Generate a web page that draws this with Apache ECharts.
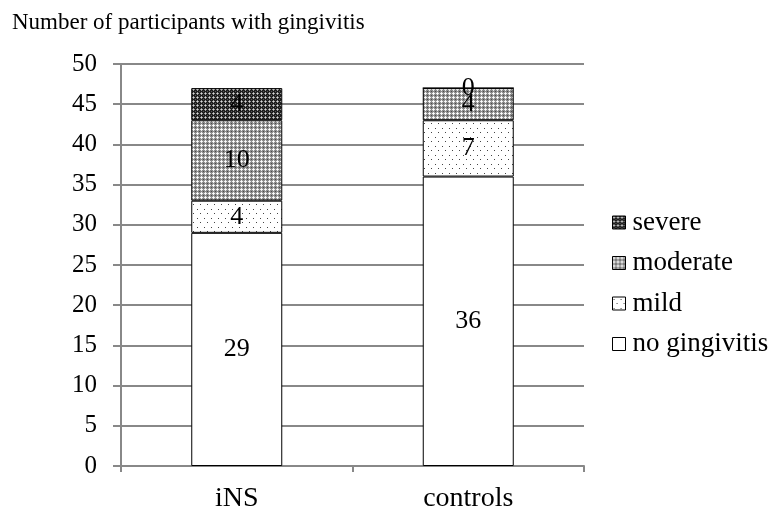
<!DOCTYPE html>
<html>
<head>
<meta charset="utf-8">
<script src="https://cdn.jsdelivr.net/npm/echarts@6/dist/echarts.min.js"></script>
<style>html,body{margin:0;padding:0;background:#fff;}#c{width:769px;height:510px;}</style>
</head>
<body>
<div id="c"></div>
<script>
var categories = ['iNS', 'controls'];
var noGingivitis = [29, 36];
var mild = [4, 7];
var moderate = [10, 4];
var severe = [4, 0];
var yTicks = [0, 5, 10, 15, 20, 25, 30, 35, 40, 45, 50];
var titleText = 'Number of participants with gingivitis';

function makePattern(kind) {
  var c = document.createElement('canvas');
  var ctx = c.getContext('2d');
  function px(x, y, col) { ctx.fillStyle = col; ctx.fillRect(x, y, 1, 1); }
  if (kind === 'severe') {
    c.width = 4; c.height = 4;
    ctx.fillStyle = '#1e1e1e'; ctx.fillRect(0, 0, 4, 4);
    px(1, 0, '#9a9a9a'); px(0, 1, '#9a9a9a'); px(2, 1, '#9a9a9a'); px(1, 2, '#9a9a9a');
    px(1, 1, '#d5d5d5');
    px(3, 3, '#555');
  } else if (kind === 'moderate') {
    c.width = 4; c.height = 4;
    ctx.fillStyle = '#8c8c8c'; ctx.fillRect(0, 0, 4, 4);
    px(1, 0, '#f0f0f0'); px(0, 1, '#f0f0f0'); px(2, 1, '#f0f0f0'); px(1, 2, '#f0f0f0');
    px(1, 1, '#ffffff');
    px(3, 3, '#4a4a4a');
  } else if (kind === 'mild') {
    c.width = 7; c.height = 9;
    ctx.fillStyle = '#ffffff'; ctx.fillRect(0, 0, 7, 9);
    px(1, 2, '#444'); px(4, 6, '#444');
  } else {
    c.width = 2; c.height = 2;
    ctx.fillStyle = '#ffffff'; ctx.fillRect(0, 0, 2, 2);
  }
  return { image: c, repeat: 'repeat' };
}

var font = '"Liberation Serif", "Times New Roman", serif';
var labelStyle = { show: true, position: 'inside', color: '#000', fontFamily: font, fontSize: 26 };

function mk(name, data, kind) {
  return {
    name: name, type: 'bar', stack: 'all', data: data, barWidth: 91,
    itemStyle: { color: makePattern(kind), borderColor: '#000', borderWidth: 1 },
    label: labelStyle,
    emphasis: { disabled: true }
  };
}

var chart = echarts.init(document.getElementById('c'), null, { renderer: 'canvas' });
chart.setOption({
  animation: false,
  backgroundColor: '#fff',
  title: {
    text: titleText, left: 7, top: 6,
    textStyle: { fontFamily: font, fontSize: 23, fontWeight: 'normal', color: '#000' }
  },
  grid: { left: 121, right: 185, top: 64, bottom: 44, containLabel: false, outerBoundsMode: 'none' },
  legend: {
    orient: 'vertical', left: 612, top: 209, padding: 0,
    data: ['severe', 'moderate', 'mild', 'no gingivitis'],
    icon: 'rect', itemWidth: 13, itemHeight: 13, itemGap: 13.5,
    itemStyle: { borderColor: '#000', borderWidth: 1 },
    textStyle: { fontFamily: font, fontSize: 27, color: '#000', lineHeight: 22, padding: [0, 0, 0, 2] },
    selectedMode: false
  },
  xAxis: {
    type: 'category', data: categories,
    axisLine: { lineStyle: { color: '#888', width: 2 } },
    axisTick: { show: true, length: 6, alignWithLabel: false, lineStyle: { color: '#888', width: 2 } },
    axisLabel: { fontFamily: font, fontSize: 28, color: '#000', margin: 19 }
  },
  yAxis: {
    type: 'value', min: yTicks[0], max: yTicks[yTicks.length - 1], interval: 5,
    axisLine: { show: true, lineStyle: { color: '#888', width: 2 } },
    axisTick: { show: true, length: 8, lineStyle: { color: '#888', width: 2 } },
    splitLine: { show: true, lineStyle: { color: '#888', width: 2 } },
    axisLabel: { fontFamily: font, fontSize: 25, color: '#000', margin: 24 }
  },
  series: [
    mk('no gingivitis', noGingivitis, 'none'),
    mk('mild', mild, 'mild'),
    mk('moderate', moderate, 'moderate'),
    mk('severe', severe, 'severe')
  ]
});
</script>
</body>
</html>
